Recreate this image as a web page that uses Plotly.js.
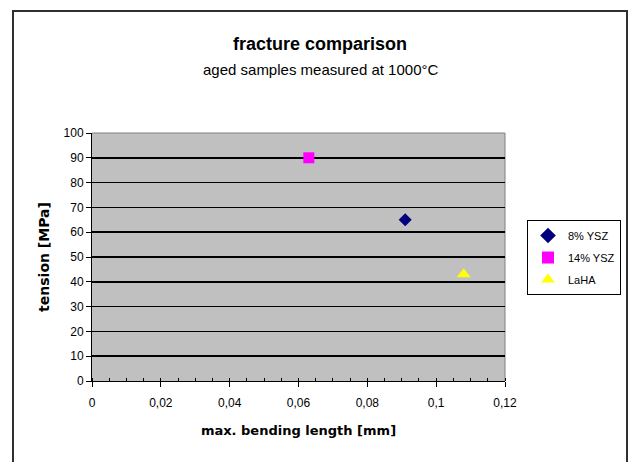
<!DOCTYPE html>
<html>
<head>
<meta charset="utf-8">
<script src="https://cdn.plot.ly/plotly-3.0.1.min.js"></script>
<style>
html,body{margin:0;padding:0;background:#fff;}
#chart{width:630px;height:462px;}
</style>
</head>
<body>
<div id="chart"></div>
<script>
// Data
const seriesNames = ["8% YSZ", "14% YSZ", "LaHA"];
const bendingLength = [[0.091], [0.063], [0.108]];   // mm
const tension = [[65], [90], [43]];                  // MPa
const markerSymbols = ["diamond", "square", "triangle-up"];
const markerColors = ["#000080", "#FF00FF", "#FFFF00"];
const markerSizes = [10, 11, 12];

const font = "Arial, 'Liberation Sans', sans-serif";
const wide = "'DejaVu Sans', sans-serif";

const traces = seriesNames.map((name, i) => ({
  type: "scatter",
  mode: "markers",
  name: name,
  legendgroup: "g" + i,
  x: bendingLength[i],
  y: tension[i],
  marker: {symbol: markerSymbols[i], color: markerColors[i], size: markerSizes[i], line: {width: 0}},
  cliponaxis: false
}));

const L = 92, R = 505, T = 133, B = 381, W = 630, H = 462;
const px = v => (v - L) / (R - L);
const py = v => (B - v) / (B - T);

const layout = {
  width: W, height: H,
  margin: {l: L, r: W - R, t: T, b: H - B, pad: 0},
  paper_bgcolor: "#ffffff",
  plot_bgcolor: "#C0C0C0",
  separators: ",.",
  font: {family: font, size: 11, color: "#000"},
  showlegend: true,
  legend: {
    xref: "container", yref: "container",
    x: 621 / W, y: 1 - 220 / H, xanchor: "right", yanchor: "top",
    bgcolor: "#ffffff", bordercolor: "#000", borderwidth: 1,
    font: {family: font, size: 11, color: "#000"},
    itemwidth: 30, itemsizing: "constant",
    traceorder: "grouped", tracegroupgap: 3
  },
  xaxis: {
    range: [0, 0.12], dtick: 0.02, tick0: 0,
    showgrid: false, zeroline: false,
    showline: true, linecolor: "#000", linewidth: 1,
    ticks: "outside", ticklen: 5, tickcolor: "#000",
    ticklabelstandoff: 6,
    minor: {dtick: 0.005, ticks: "inside", ticklen: 3, tickcolor: "#000", showgrid: false},
    tickfont: {family: font, size: 12},
    title: {text: "<b>max. bending length [mm]</b>", font: {family: wide, size: 13}, standoff: 16},
    fixedrange: true
  },
  yaxis: {
    range: [0, 100], dtick: 10, tick0: 0,
    showgrid: true, gridcolor: "#000", gridwidth: 1.5,
    zeroline: false,
    showline: true, linecolor: "#000", linewidth: 1,
    ticks: "outside", ticklen: 5, tickcolor: "#000",
    tickfont: {family: font, size: 12},
    title: {text: "<b>tension [MPa]</b>", font: {family: wide, size: 14}, standoff: 10},
    fixedrange: true
  },
  annotations: [
    {xref: "paper", yref: "paper", x: px(320), y: py(44), xanchor: "center", yanchor: "middle",
     text: "<b>fracture comparison</b>", showarrow: false, font: {family: font, size: 18, color: "#000"}},
    {xref: "paper", yref: "paper", x: px(320), y: py(70), xanchor: "center", yanchor: "middle",
     text: "aged samples measured at 1000°C", showarrow: false, font: {family: font, size: 15, color: "#000"}}
  ],
  shapes: [
    // outer chart frame
    {type: "rect", xref: "paper", yref: "paper",
     x0: px(13), x1: px(627), y0: py(480), y1: py(11),
     line: {color: "#303030", width: 2}, fillcolor: "rgba(0,0,0,0)", layer: "below"},
    // plot area border top/right (grey)
    {type: "path", xref: "paper", yref: "paper", path: "M 0 1 L 1 1 L 1 0",
     line: {color: "#808080", width: 1}, layer: "below"}
  ]
};

Plotly.newPlot("chart", traces, layout, {staticPlot: true, displayModeBar: false});
</script>
</body>
</html>
